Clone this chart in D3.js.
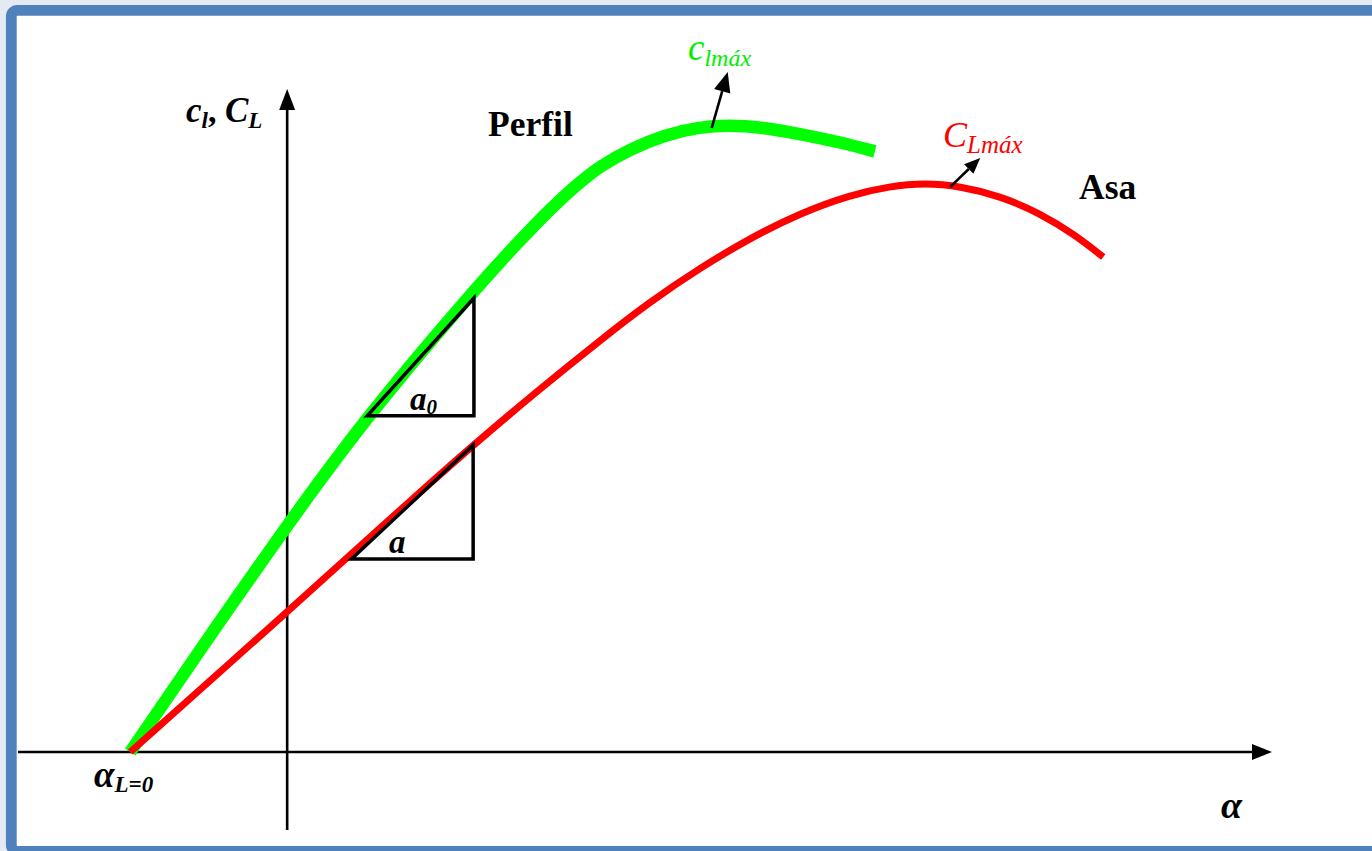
<!DOCTYPE html>
<html>
<head>
<meta charset="utf-8">
<script src="https://cdn.jsdelivr.net/npm/d3@7"></script>
<style>
  html, body { margin: 0; padding: 0; background: #e3eaf3; }
  svg { display: block; }
  text { font-family: "Liberation Serif", "Times New Roman", serif; }
</style>
</head>
<body>
<svg id="chart" width="1372" height="851"></svg>
<script>
// Lift curves: airfoil section (Perfil) and finite wing (Asa)
const alphaPerfil = [-2.00, -1.11, 0.00, 1.02, 2.37, 2.97, 3.35, 3.67, 3.99, 4.37, 4.81, 5.26, 5.64, 6.02, 6.53, 7.04, 7.49];
const clPerfil    = [0.000, 0.262, 0.582, 0.862, 1.182, 1.313, 1.392, 1.451, 1.503, 1.546, 1.582, 1.603, 1.607, 1.603, 1.585, 1.564, 1.540];

const alphaAsa = [-2.00, 0.00, 0.80, 1.57, 2.37, 3.22, 3.99, 4.62, 5.26, 5.90, 6.54, 7.17, 7.68, 8.13, 8.57, 9.08, 9.59, 10.04, 10.40];
const clAsa    = [0.000, 0.359, 0.505, 0.644, 0.787, 0.931, 1.056, 1.154, 1.241, 1.318, 1.382, 1.428, 1.451, 1.459, 1.451, 1.426, 1.382, 1.326, 1.269];

// Slope triangles [alpha start, alpha end, c start, c end]
const triPerfil = [1.02, 2.38, 0.862, 1.164];
const triAsa    = [0.82, 2.37, 0.495, 0.787];

// Maximum-lift annotation anchors [alpha, c]
const peakPerfil = [5.41, 1.600];
const peakAsa    = [8.45, 1.449];

const alphaDomain = [-3.43, 12.55];
const clDomain = [-0.2, 1.7];

const svg = d3.select("#chart");

// Slide frame
svg.append("rect")
  .attr("x", 11.3).attr("y", 10.3)
  .attr("width", 1420).attr("height", 841)
  .attr("rx", 6)
  .attr("fill", "#ffffff")
  .attr("stroke", "#4f81bd")
  .attr("stroke-width", 10.8);

const x = d3.scaleLinear().domain(alphaDomain).range([18, 1272]);
const y = d3.scaleLinear().domain(clDomain).range([830, 89]);

// Axes (no ticks, just the arrowed lines)
const xAxisG = svg.append("g")
  .attr("transform", `translate(0,${y(0)})`)
  .call(d3.axisBottom(x).tickValues([]).tickSizeOuter(0));
xAxisG.select(".domain")
  .attr("stroke", "#000").attr("stroke-width", 2.6)
  .attr("d", `M${x(alphaDomain[0])},0H${x(alphaDomain[1]) - 16}`);

const yAxisG = svg.append("g")
  .attr("transform", `translate(${x(0)},0)`)
  .call(d3.axisLeft(y).tickValues([]).tickSizeOuter(0));
yAxisG.select(".domain")
  .attr("stroke", "#000").attr("stroke-width", 2.6)
  .attr("d", `M0,${y(clDomain[0])}V${y(clDomain[1]) + 16}`);

// Arrowheads
const xt = x(alphaDomain[1]), y0 = y(0);
svg.append("path")
  .attr("d", `M${xt},${y0} L${xt - 20},${y0 - 8} L${xt - 20},${y0 + 8} Z`)
  .attr("fill", "#000");
const x0 = x(0), yt = y(clDomain[1]);
svg.append("path")
  .attr("d", `M${x0},${yt} L${x0 - 8},${yt + 21} L${x0 + 8},${yt + 21} Z`)
  .attr("fill", "#000");

const line = d3.line()
  .x(d => x(d[0]))
  .y(d => y(d[1]))
  .curve(d3.curveBasis);

// Perfil curve (green)
svg.append("path")
  .datum(d3.zip(alphaPerfil, clPerfil))
  .attr("d", line)
  .attr("fill", "none")
  .attr("stroke", "#00ff00")
  .attr("stroke-width", 12.5)
  .attr("stroke-linecap", "butt");

// Asa curve (red)
svg.append("path")
  .datum(d3.zip(alphaAsa, clAsa))
  .attr("d", line)
  .attr("fill", "none")
  .attr("stroke", "#ff0000")
  .attr("stroke-width", 7)
  .attr("stroke-linecap", "butt");

// Slope triangles
function triangle(t) {
  const [a1, a2, c1, c2] = t;
  svg.append("path")
    .attr("d", `M${x(a1)},${y(c1)} L${x(a2)},${y(c2)} L${x(a2)},${y(c1)} Z`)
    .attr("fill", "none")
    .attr("stroke", "#000")
    .attr("stroke-width", 3.5)
    .attr("stroke-linejoin", "miter");
}
triangle(triPerfil);
triangle(triAsa);

// Annotation arrows toward the max-lift labels
function arrow(p, dx, dy, head) {
  const sx = x(p[0]), sy = y(p[1]);
  const ex = sx + dx, ey = sy + dy;
  const len = Math.hypot(dx, dy), ux = dx / len, uy = dy / len;
  const bx = ex - ux * head, by = ey - uy * head;
  const w = head * 0.42;
  svg.append("line")
    .attr("x1", sx).attr("y1", sy).attr("x2", bx).attr("y2", by)
    .attr("stroke", "#000").attr("stroke-width", 2.6);
  svg.append("path")
    .attr("d", `M${ex},${ey} L${bx - uy * w},${by + ux * w} L${bx + uy * w},${by - ux * w} Z`)
    .attr("fill", "#000");
}
arrow(peakPerfil, 16, -56, 20);
arrow(peakAsa, 30, -29, 16);

// Labels
function label(px, py, parts, opts) {
  const t = svg.append("text")
    .attr("x", px).attr("y", py)
    .attr("fill", opts.fill || "#000")
    .attr("font-weight", opts.weight || "bold")
    .attr("font-style", opts.style || "italic");
  parts.forEach(p => {
    const s = t.append("tspan").text(p.t).attr("font-size", p.size);
    if (p.dy) s.attr("dy", p.dy);
    if (p.style) s.attr("font-style", p.style);
  });
  return t;
}

label(186, 122, [
  {t: "c", size: 35},
  {t: "l", size: 23, dy: 6},
  {t: ", ", size: 34, dy: -6, style: "normal"},
  {t: "C", size: 35},
  {t: "L", size: 23, dy: 6}
], {});

label(488, 136, [{t: "Perfil", size: 35.5}], {style: "normal"});
label(1079, 199, [{t: "Asa", size: 35.5}], {style: "normal"});

label(688, 60, [
  {t: "c", size: 37},
  {t: "lmáx", size: 24, dy: 6}
], {fill: "#00ee00", weight: "normal"});

label(943, 147, [
  {t: "C", size: 36},
  {t: "Lmáx", size: 25, dy: 6}
], {fill: "#ff0000", weight: "normal"});

label(410, 410, [
  {t: "a", size: 33},
  {t: "0", size: 21, dy: 4}
], {});

label(389, 553, [{t: "a", size: 33}], {});

label(94, 787, [
  {t: "α", size: 37},
  {t: "L=0", size: 23, dy: 5}
], {});

label(1221, 818, [{t: "α", size: 38}], {});
</script>
</body>
</html>
